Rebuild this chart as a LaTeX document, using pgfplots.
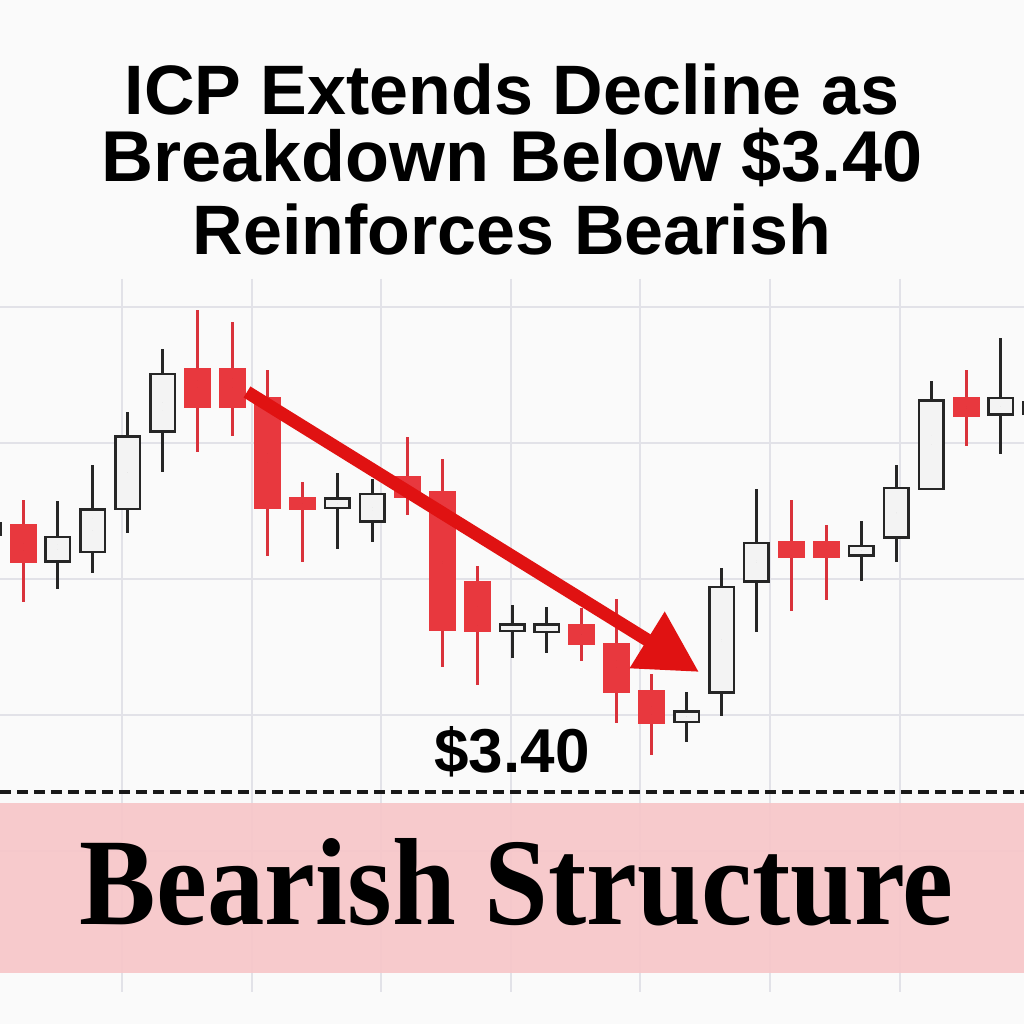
\documentclass[border=0pt]{standalone}
\usepackage{fontspec}
\setmainfont{Liberation Sans}
\newfontfamily\heavyserif{Liberation Serif}
\usepackage{graphicx}
\usepackage{pgfplots}
\usepackage{pgfplotstable}
\pgfplotsset{compat=1.18}
\usetikzlibrary{arrows.meta}

\definecolor{bg}{HTML}{FAFAFA}
\definecolor{gridcol}{HTML}{E2E2E8}
\definecolor{candlered}{HTML}{E8383E}
\definecolor{wickred}{HTML}{D9323B}
\definecolor{candlewhite}{HTML}{F3F3F3}
\definecolor{candleblack}{HTML}{262626}
\definecolor{arrowred}{HTML}{E01212}
\definecolor{bandpink}{HTML}{F7C6C9}

% bearish candles (index, open, high, low, close)
\pgfplotstableread{
i open high low close
0  3.669 3.693 3.591 3.630
5  3.825 3.883 3.741 3.785
6  3.825 3.871 3.757 3.785
7  3.796 3.823 3.637 3.684
8  3.696 3.711 3.631 3.683
11 3.717 3.756 3.678 3.695
12 3.702 3.734 3.526 3.562
13 3.612 3.627 3.508 3.561
16 3.569 3.585 3.532 3.548
17 3.550 3.594 3.470 3.500
18 3.503 3.519 3.438 3.469
22 3.652 3.693 3.582 3.635
23 3.652 3.668 3.593 3.635
27 3.796 3.823 3.747 3.776
}\bear

% bullish candles
\pgfplotstableread{
i open high low close
-1 3.657 3.683 3.645 3.671
1  3.630 3.692 3.604 3.657
2  3.640 3.728 3.620 3.685
3  3.683 3.781 3.660 3.758
4  3.760 3.844 3.721 3.820
9  3.684 3.720 3.644 3.696
10 3.670 3.714 3.651 3.700
14 3.561 3.588 3.535 3.570
15 3.560 3.586 3.540 3.570
19 3.470 3.501 3.451 3.483
20 3.499 3.625 3.477 3.607
21 3.610 3.704 3.561 3.651
24 3.636 3.672 3.612 3.648
25 3.654 3.728 3.631 3.706
26 3.703 3.812 3.703 3.794
28 3.777 3.855 3.739 3.796
29 3.778 3.803 3.763 3.792
}\bull

\pgfplotsset{
  candle/.style 2 args={only marks, mark size=0pt, mark options={draw=none, fill=none},
    error bars/.cd, y dir=both, y explicit, error mark=none,
    error bar style={draw=#1, line width=#2}},
}

\begin{document}
\begin{tikzpicture}
\begin{axis}[
  name=ax,
  width=512pt, height=512pt, scale only axis,
  xmin=-0.66, xmax=28.66, ymin=3.169, ymax=4.193,
  hide axis,
  clip=true,
]
% background
\fill[bg] (axis cs:-0.66,3.169) rectangle (axis cs:28.66,4.193);

% grid
\pgfplotsinvokeforeach{2.833,6.544,10.255,13.966,17.677,21.387,25.098}{
  \draw[gridcol, line width=1pt] (axis cs:#1,3.914) -- (axis cs:#1,3.201);
}
\pgfplotsinvokeforeach{3.886,3.750,3.614,3.478,3.342}{
  \draw[gridcol, line width=1pt] (axis cs:-0.66,#1) -- (axis cs:28.66,#1);
}

% wicks
\addplot[candle={wickred}{1.5pt}]
  table[x=i, y expr={(\thisrow{high}+\thisrow{low})/2},
        y error expr={(\thisrow{high}-\thisrow{low})/2}] {\bear};
\addplot[candle={candleblack}{1.5pt}]
  table[x=i, y expr={(\thisrow{high}+\thisrow{low})/2},
        y error expr={(\thisrow{high}-\thisrow{low})/2}] {\bull};

% bodies
\addplot[candle={candlered}{13.5pt}]
  table[x=i, y expr={(\thisrow{open}+\thisrow{close})/2},
        y error expr={(\thisrow{open}-\thisrow{close})/2}] {\bear};
\addplot[candle={candleblack}{13.5pt}]
  table[x=i, y expr={(\thisrow{open}+\thisrow{close})/2},
        y error expr={(\thisrow{close}-\thisrow{open})/2}] {\bull};
\addplot[candle={candlewhite}{11pt}]
  table[x=i, y expr={(\thisrow{open}+\thisrow{close})/2},
        y error expr={(\thisrow{close}-\thisrow{open})/2-0.0025}] {\bull};

% trend arrow
\draw[arrowred, line width=6.5pt, -{Triangle[length=30.5pt, width=31.5pt]}]
  (axis cs:6.412,3.801) -- (axis cs:19.354,3.521);

% band and support line
\fill[bandpink, fill opacity=0.92] (axis cs:-0.66,3.390) rectangle (axis cs:28.66,3.220);
\draw[black!90, line width=1.75pt, dash pattern=on 5.5pt off 3pt]
  (axis cs:-0.66,3.401) -- (axis cs:28.66,3.401);

% texts
\node[anchor=base, font=\fontsize{35}{35}\selectfont\bfseries] at (axis cs:14.0,4.078) {ICP Extends Decline as};
\node[anchor=base, font=\fontsize{36}{36}\selectfont\bfseries] at (axis cs:14.0,4.011) {Breakdown Below \$3.40};
\node[anchor=base, font=\fontsize{35}{35}\selectfont\bfseries] at (axis cs:14.0,3.938) {Reinforces Bearish};
\node[anchor=base, font=\fontsize{31}{31}\selectfont\bfseries] at (axis cs:14.0,3.420) {\$3.40};
\node[anchor=base] at (axis cs:14.14,3.268)
  {\scalebox{0.925}[1]{\fontsize{62}{62}\selectfont\heavyserif\bfseries Bearish Structure}};
\end{axis}
\pgfresetboundingbox
\useasboundingbox (ax.south west) rectangle (ax.north east);
\end{tikzpicture}
\end{document}
